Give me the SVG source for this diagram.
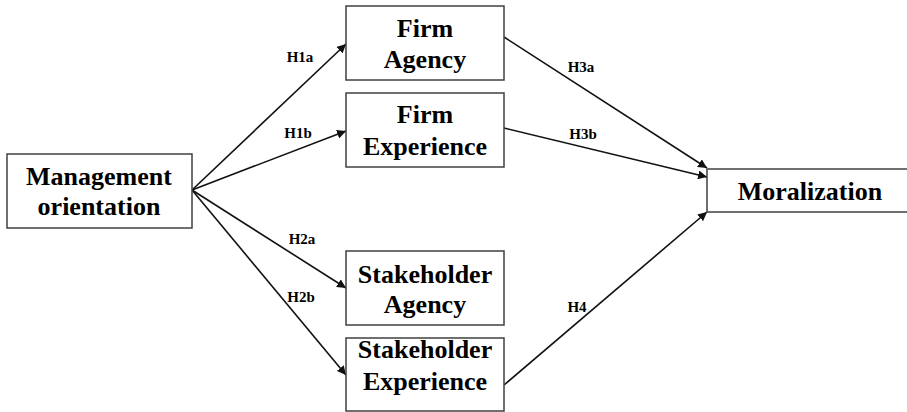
<svg xmlns="http://www.w3.org/2000/svg" width="907" height="412" viewBox="0 0 907 412">
<style>
.box{fill:#fff;stroke:#404040;stroke-width:1.5}
.t{font-family:'Liberation Serif','Times New Roman',serif;font-weight:bold;font-size:26px;fill:#000;text-anchor:middle}
.l{font-family:'Liberation Serif','Times New Roman',serif;font-weight:bold;font-size:15px;fill:#000;text-anchor:middle}
.c{stroke:#111;stroke-width:1.6;fill:none;marker-end:url(#ah)}
</style>
<defs>
<marker id="ah" viewBox="0 0 10 10" refX="10" refY="5" markerWidth="9" markerHeight="9" markerUnits="userSpaceOnUse" orient="auto">
<path d="M0,0 L10,5 L0,10 z" fill="#111"/>
</marker>
</defs>
<rect width="907" height="412" fill="#fff"/>
<g id="connectors">
<line class="c" x1="192" y1="190" x2="346" y2="44"/>
<line class="c" x1="192" y1="190" x2="346" y2="131"/>
<line class="c" x1="192" y1="190" x2="346" y2="288"/>
<line class="c" x1="192" y1="190" x2="346" y2="375"/>
<line class="c" x1="504" y1="37" x2="707" y2="168"/>
<line class="c" x1="504" y1="128" x2="707" y2="177"/>
<line class="c" x1="504" y1="385" x2="707" y2="212"/>
<text class="l" x="300" y="62">H1a</text>
<text class="l" x="298" y="138">H1b</text>
<text class="l" x="302" y="244">H2a</text>
<text class="l" x="301" y="302">H2b</text>
<text class="l" x="581" y="72">H3a</text>
<text class="l" x="583" y="139">H3b</text>
<text class="l" x="577" y="312">H4</text>
</g>
<g id="management">
<rect class="box" x="7" y="154" width="185" height="74"/>
<text class="t" x="99" y="185">Management</text>
<text class="t" x="99" y="215">orientation</text>
</g>
<g id="firm-agency">
<rect class="box" x="346" y="6" width="158" height="74"/>
<text class="t" x="425" y="37">Firm</text>
<text class="t" x="425" y="68">Agency</text>
</g>
<g id="firm-experience">
<rect class="box" x="346" y="93" width="158" height="74"/>
<text class="t" x="425" y="123">Firm</text>
<text class="t" x="425" y="155">Experience</text>
</g>
<g id="stakeholder-agency">
<rect class="box" x="346" y="251" width="158" height="74"/>
<text class="t" x="425" y="283">Stakeholder</text>
<text class="t" x="425" y="313">Agency</text>
</g>
<g id="stakeholder-experience">
<rect class="box" x="346" y="338" width="158" height="73"/>
<text class="t" x="425" y="358">Stakeholder</text>
<text class="t" x="425" y="390">Experience</text>
</g>
<g id="moralization">
<rect class="box" x="707" y="169" width="210" height="43"/>
<text class="t" x="810" y="200">Moralization</text>
</g>
</svg>
